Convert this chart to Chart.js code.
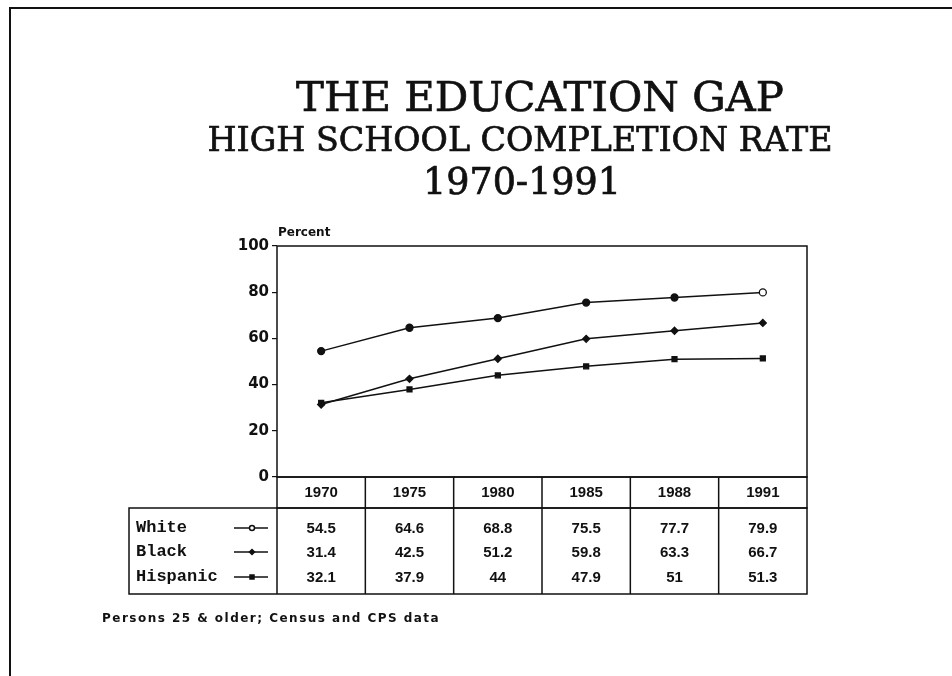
<!DOCTYPE html>
<html>
<head>
<meta charset="utf-8">
<script src="https://cdn.jsdelivr.net/npm/chart.js@4"></script>
<style>
  html, body { margin: 0; padding: 0; background: #fff; }
  #wrap { width: 952px; height: 676px; }
</style>
</head>
<body>
<div id="wrap"><canvas id="c" width="952" height="676"></canvas></div>
<script>
// ---- data ----
const years = ['1970', '1975', '1980', '1985', '1988', '1991'];
const white = [54.5, 64.6, 68.8, 75.5, 77.7, 79.9];
const black = [31.4, 42.5, 51.2, 59.8, 63.3, 66.7];
const hispanic = [32.1, 37.9, 44, 47.9, 51, 51.3];
const seriesNames = ['White', 'Black', 'Hispanic'];
const yTicks = [0, 20, 40, 60, 80, 100];
const titleLines = ['THE EDUCATION GAP', 'HIGH SCHOOL COMPLETION RATE', '1970-1991'];
const yAxisTitle = 'Percent';
const footnote = 'Persons 25 & older; Census and CPS data';

// ---- styles ----
const INK = '#111';
const TITLE_FONT = '"DejaVu Serif", serif';
const pointStyles = ['circle', 'rectRot', 'rect'];
const pointRadii = [3.5, 3.5, 3.5];

function fitText(ctx, text, family, weight, targetWidth) {
  ctx.font = weight + ' 100px ' + family;
  const w = ctx.measureText(text).width;
  const size = 100 * targetWidth / w;
  ctx.font = weight + ' ' + size.toFixed(2) + 'px ' + family;
}

function heavyText(ctx, text, x, y) {
  ctx.fillText(text, x, y);
  ctx.lineWidth = 0.7;
  ctx.strokeText(text, x, y);
}

function drawMarker(ctx, style, x, y, r, fill) {
  ctx.save();
  ctx.fillStyle = fill;
  ctx.strokeStyle = INK;
  ctx.lineWidth = 1.5;
  ctx.beginPath();
  if (style === 'circle') {
    ctx.arc(x, y, r, 0, Math.PI * 2);
  } else if (style === 'rectRot') {
    ctx.moveTo(x, y - r); ctx.lineTo(x + r, y); ctx.lineTo(x, y + r); ctx.lineTo(x - r, y); ctx.closePath();
  } else {
    ctx.rect(x - r * 0.8, y - r * 0.8, r * 1.6, r * 1.6);
  }
  ctx.fill();
  ctx.stroke();
  ctx.restore();
}

const decorPlugin = {
  id: 'decor',
  beforeDraw(chart) {
    const ctx = chart.ctx;
    ctx.save();
    ctx.fillStyle = '#fff';
    ctx.fillRect(0, 0, chart.width, chart.height);
    ctx.restore();
  },
  afterDraw(chart) {
    const ctx = chart.ctx;
    const ca = chart.chartArea;
    const xs = chart.scales.x;
    const n = years.length;
    const colW = (ca.right - ca.left) / n;
    ctx.save();
    ctx.strokeStyle = INK;
    ctx.fillStyle = INK;

    // page frame
    ctx.lineWidth = 2;
    ctx.beginPath();
    ctx.moveTo(10, chart.height);
    ctx.lineTo(10, 8);
    ctx.lineTo(chart.width, 8);
    ctx.stroke();

    // plot box
    ctx.lineWidth = 1.5;
    ctx.strokeRect(ca.left, ca.top, ca.right - ca.left, ca.bottom - ca.top);

    // titles
    ctx.textAlign = 'center';
    ctx.textBaseline = 'alphabetic';
    fitText(ctx, titleLines[0], TITLE_FONT, 'normal', 488);
    heavyText(ctx, titleLines[0], 540, 111);
    fitText(ctx, titleLines[1], TITLE_FONT, 'normal', 625);
    heavyText(ctx, titleLines[1], 520, 151);
    fitText(ctx, titleLines[2], TITLE_FONT, 'normal', 198);
    heavyText(ctx, titleLines[2], 522, 194);

    // y axis title
    ctx.textAlign = 'left';
    ctx.font = 'bold 12px "DejaVu Sans"';
    ctx.fillText(yAxisTitle, ca.left + 1, ca.top - 10);

    // year row
    const yrTop = ca.bottom, yrBot = ca.bottom + 31;
    ctx.lineWidth = 1.5;
    ctx.strokeRect(ca.left, yrTop, ca.right - ca.left, yrBot - yrTop);
    ctx.beginPath();
    for (let i = 1; i < n; i++) {
      const bx = ca.left + i * colW;
      ctx.moveTo(bx, yrTop); ctx.lineTo(bx, yrBot);
    }
    ctx.stroke();
    ctx.textAlign = 'center';
    ctx.textBaseline = 'middle';
    ctx.font = 'bold 15px "Liberation Sans"';
    years.forEach((yr, i) => ctx.fillText(yr, xs.getPixelForValue(i), yrTop + 16));

    // data table
    const tLeft = 129, tTop = yrBot, tBot = yrBot + 86;
    ctx.strokeRect(tLeft, tTop, ca.right - tLeft, tBot - tTop);
    ctx.beginPath();
    for (let i = 0; i < n; i++) {
      const bx = ca.left + i * colW;
      ctx.moveTo(bx, tTop); ctx.lineTo(bx, tBot);
    }
    ctx.stroke();
    const rowY = [tTop + 20, tTop + 44, tTop + 69];
    chart.data.datasets.forEach((ds, k) => {
      const y = rowY[k];
      ctx.textAlign = 'left';
      ctx.font = 'bold 17px "Liberation Mono"';
      ctx.fillStyle = INK;
      ctx.fillText(seriesNames[k], tLeft + 7, y);
      // legend sample
      ctx.lineWidth = 1.5;
      ctx.beginPath();
      ctx.moveTo(234, y); ctx.lineTo(268, y);
      ctx.stroke();
      drawMarker(ctx, pointStyles[k], 252, y, 2.5, k === 0 ? '#fff' : INK);
      // values
      ctx.textAlign = 'center';
      ctx.font = 'bold 15px "Liberation Sans"';
      ctx.fillStyle = INK;
      ds.data.forEach((v, i) => ctx.fillText(String(v), xs.getPixelForValue(i), y + 1));
    });

    // footnote (letter-spaced to the reference's width)
    ctx.textAlign = 'left';
    ctx.textBaseline = 'alphabetic';
    ctx.font = 'bold 12px "DejaVu Sans"';
    const w0 = ctx.measureText(footnote).width;
    ctx.letterSpacing = Math.max(0, (338 - w0) / footnote.length).toFixed(2) + 'px';
    ctx.fillText(footnote, 102, 622);
    ctx.restore();
  }
};

const lastIdx = years.length - 1;
const makeDs = (label, data, k) => ({
  label,
  data,
  borderColor: INK,
  borderWidth: 1.5,
  pointStyle: pointStyles[k],
  pointRadius: pointRadii[k],
  pointBorderColor: INK,
  pointBorderWidth: 1.3,
  pointBackgroundColor: k === 0 ? (c => c.dataIndex === lastIdx ? '#fff' : INK) : INK,
  tension: 0,
  fill: false
});

new Chart(document.getElementById('c'), {
  type: 'line',
  data: {
    labels: years,
    datasets: [
      makeDs(seriesNames[0], white, 0),
      makeDs(seriesNames[1], black, 1),
      makeDs(seriesNames[2], hispanic, 2)
    ]
  },
  plugins: [decorPlugin],
  options: {
    responsive: false,
    animation: false,
    events: [],
    layout: { padding: { left: 227, right: 145, top: 246, bottom: 199 } },
    plugins: { legend: { display: false }, title: { display: false }, tooltip: { enabled: false } },
    scales: {
      x: { type: 'category', offset: true, display: false },
      y: {
        min: 0, max: 100,
        afterBuildTicks(scale) { scale.ticks = yTicks.map(v => ({ value: v })); },
        afterFit(scale) { scale.width = 50; },
        border: { display: false },
        grid: { drawOnChartArea: false, drawTicks: true, tickLength: 5, color: INK, lineWidth: 1.2 },
        ticks: { color: INK, padding: 3, font: { family: '"DejaVu Sans"', weight: 'bold', size: 15 } }
      }
    }
  }
});
</script>
</body>
</html>
